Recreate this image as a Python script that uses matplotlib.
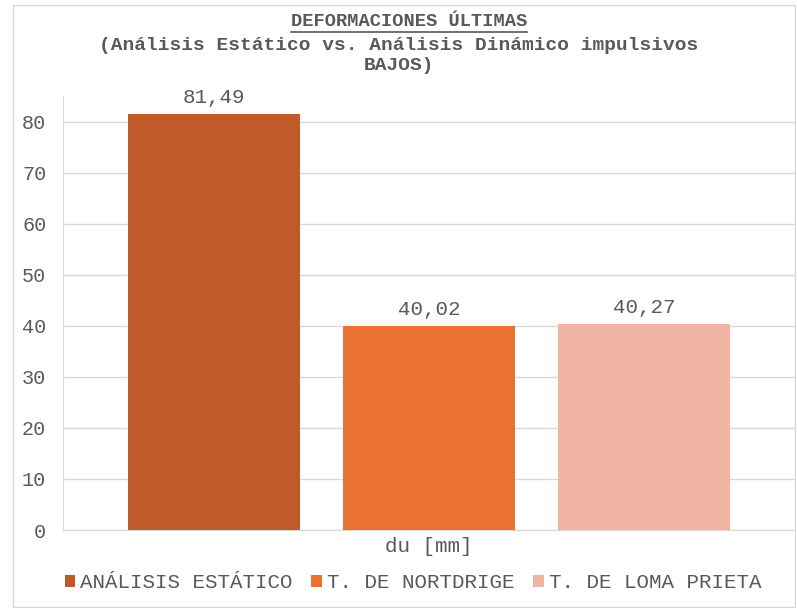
import matplotlib
matplotlib.use("Agg")
import matplotlib.pyplot as plt
from matplotlib.patches import Rectangle, Patch
from matplotlib.lines import Line2D

# data
series = ["ANÁLISIS ESTÁTICO", "T. DE NORTDRIGE", "T. DE LOMA PRIETA"]
values = [81.49, 40.02, 40.27]
labels = ["81,49", "40,02", "40,27"]
colors = ["#C05A28", "#E97132", "#F1B3A3"]
yticks = [0, 10, 20, 30, 40, 50, 60, 70, 80]

W, H = 797, 608
GRAY = "#595959"
plt.rcParams["font.family"] = ["Liberation Mono", "DejaVu Sans Mono"]

fig = plt.figure(figsize=(W / 100, H / 100), dpi=100)
ax = fig.add_axes([63 / W, (H - 530) / H, (795 - 63) / W, (530 - 96) / H])

x = list(range(len(values)))
ax.bar(x, values, width=0.8, color=colors, zorder=3)
for xi, v, lb in zip(x, values, labels):
    ax.annotate(lb, (xi, v), xytext=(0, 5), textcoords="offset points",
                ha="center", va="bottom", fontsize=15, color=GRAY)

ax.set_xlim(-0.702, 2.702)
ax.set_ylim(0, 85)
ax.set_yticks(yticks)
ax.set_yticklabels([str(t) for t in yticks], fontsize=14.5, color=GRAY)
ax.set_xticks([])
ax.grid(axis="y", color="#D9D9D9", linewidth=1, zorder=0)
ax.tick_params(axis="y", length=0, pad=12)
for s in ["top", "right"]:
    ax.spines[s].set_visible(False)
ax.spines["left"].set_color("#D9D9D9")
ax.spines["bottom"].set_color("#D9D9D9")

fig.text(429 / W, 1 - 546 / H, "du [mm]", ha="center", va="center",
         fontsize=15, color=GRAY)

# title
t = fig.text(409 / W, 1 - 22 / H, "DEFORMACIONES ÚLTIMAS", ha="center", va="center",
             fontsize=13.5, fontweight="bold", color=GRAY)
fig.text(399 / W, 1 - 45 / H, "(Análisis Estático vs. Análisis Dinámico impulsivos",
         ha="center", va="center", fontsize=14, fontweight="bold", color=GRAY)
fig.text(399 / W, 1 - 65 / H, "BAJOS)", ha="center", va="center",
         fontsize=14, fontweight="bold", color=GRAY)

# underline for the title
fig.canvas.draw()
bb = t.get_window_extent()
fig.add_artist(Line2D([bb.x0 / W, bb.x1 / W], [(H - 32) / H] * 2,
                      color=GRAY, linewidth=1.2))

# legend
handles = [Patch(facecolor=c, edgecolor="none") for c in colors]
fig.legend(handles, series, loc="center", bbox_to_anchor=(413 / W, 1 - 583 / H),
           ncol=3, frameon=False, fontsize=15, handlelength=0.5, handleheight=0.5,
           handletextpad=0.25, columnspacing=0.9, labelcolor=GRAY)

# chart border
fig.add_artist(Rectangle((13 / W, 1 / H), (795 - 13) / W, (H - 6) / H,
                         transform=fig.transFigure, fill=False,
                         edgecolor="#D9D9D9", linewidth=1))

fig.savefig("out.png", dpi=100)
